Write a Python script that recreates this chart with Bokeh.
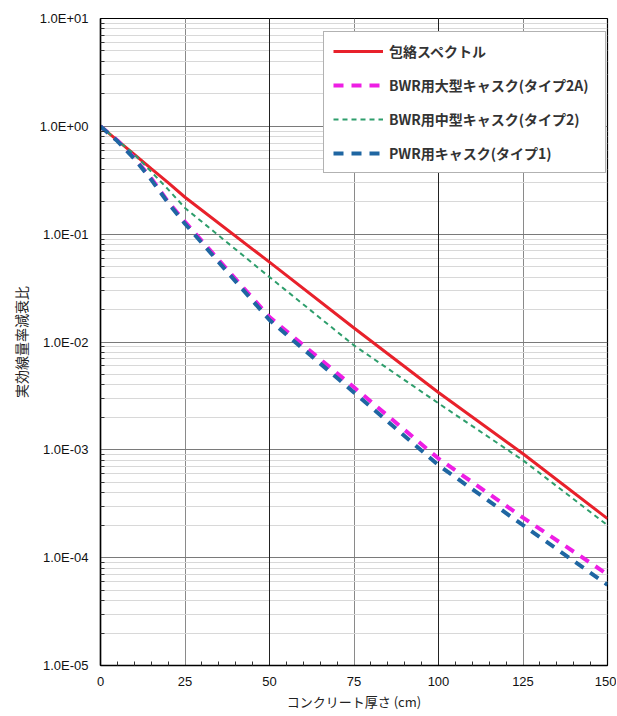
from bokeh.plotting import figure
from bokeh.models import (FixedTicker, CustomJSTickFormatter, Legend, LegendItem,
                          Grid, ColumnDataSource, Range1d)
from bokeh.embed import file_html
from bokeh.resources import INLINE

# ---- data ----
thickness_cm = [0, 5, 10, 15, 20, 25, 50, 75, 100, 125, 150]
envelope = [1.0, 0.74, 0.55, 0.405, 0.30, 0.22, 0.055, 0.0135, 3.4e-3, 9.2e-4, 2.3e-4]
bwr_large_2a = [1.0, 0.74, 0.51, 0.33, 0.20, 0.13, 0.017, 3.8e-3, 8.3e-4, 2.35e-4, 7.0e-5]
bwr_medium_2 = [1.0, 0.74, 0.55, 0.38, 0.26, 0.175, 0.040, 9.3e-3, 2.7e-3, 8.0e-4, 2.0e-4]
pwr_1 = [1.0, 0.73, 0.50, 0.32, 0.195, 0.125, 0.016, 3.4e-3, 7.2e-4, 2.0e-4, 5.6e-5]

series_names = ["包絡スペクトル", "BWR用大型キャスク(タイプ2A)",
                "BWR用中型キャスク(タイプ2)", "PWR用キャスク(タイプ1)"]
x_label = "コンクリート厚さ (cm)"
y_label = "実効線量率減衰比"
x_ticks = [0, 25, 50, 75, 100, 125, 150]
x_minor_ticks = [v for v in range(0, 151, 5) if v % 25 != 0]
x_dark_lines = [50, 100]
y_ticks = [1e-5, 1e-4, 1e-3, 1e-2, 1e-1, 1e0, 1e1]
y_minor_ticks = [m * 10.0 ** e for e in range(-5, 1) for m in range(2, 10)]

src = ColumnDataSource(dict(x=thickness_cm, env=envelope, b2a=bwr_large_2a,
                            b2=bwr_medium_2, p1=pwr_1))

p = figure(frame_width=507, frame_height=647, y_axis_type="log",
           x_range=Range1d(0, 150), y_range=Range1d(1e-5, 1e1),
           output_backend="svg", toolbar_location=None,
           min_border_left=100, min_border_right=9, min_border_top=18,
           min_border_bottom=20)
p.background_fill_color = "white"
p.border_fill_color = "white"
p.outline_line_color = "black"
p.outline_line_width = 1.2

# axes
for ax in (p.xaxis[0], p.yaxis[0]):
    ax.axis_line_color = "black"
    ax.axis_line_width = 1.5
    ax.major_tick_in = 0
    ax.major_tick_out = 0
    ax.minor_tick_in = 4
    ax.minor_tick_out = 0
    ax.minor_tick_line_color = "#333333"
    ax.major_label_text_font = "Liberation Sans"
    ax.major_label_text_font_size = "13px"
    ax.major_label_text_color = "#111111"
    ax.axis_label_text_font = "Noto Sans CJK JP"
    ax.axis_label_text_font_style = "normal"
    ax.axis_label_text_color = "#222222"

p.xaxis.ticker = FixedTicker(ticks=x_ticks, minor_ticks=x_minor_ticks)
p.yaxis.ticker = FixedTicker(ticks=y_ticks, minor_ticks=y_minor_ticks)
p.yaxis.formatter = CustomJSTickFormatter(code="""
    const e = Math.round(Math.log10(tick));
    const m = tick / Math.pow(10, e);
    const a = Math.abs(e);
    return m.toFixed(1) + 'E' + (e < 0 ? '-' : '+') + (a < 10 ? '0' : '') + a;
""")
p.xaxis.axis_label = x_label
p.yaxis.axis_label = y_label
p.xaxis.axis_label_text_font_size = "13px"
p.yaxis.axis_label_text_font_size = "14px"
p.xaxis.major_label_standoff = 11
p.yaxis.major_label_standoff = 12
p.xaxis.axis_label_standoff = 3
p.yaxis.axis_label_standoff = 6

# grids
p.xgrid.ticker = FixedTicker(ticks=x_ticks)
p.xgrid.grid_line_color = "#8a8a8a"
p.xgrid.grid_line_width = 1
p.ygrid.ticker = FixedTicker(ticks=y_ticks, minor_ticks=y_minor_ticks)
p.ygrid.grid_line_color = "#7a7a7a"
p.ygrid.grid_line_width = 1.2
p.ygrid.minor_grid_line_color = "#d8d8d8"
p.ygrid.minor_grid_line_width = 1
p.add_layout(Grid(dimension=0, ticker=FixedTicker(ticks=x_dark_lines),
                  grid_line_color="#222222", grid_line_width=1))

# lines
r_env = p.line("x", "env", source=src, line_color="#e8212b", line_width=3)
r_b2a = p.line("x", "b2a", source=src, line_color="#ee1ee4", line_width=4,
               line_dash="10 8")
r_b2 = p.line("x", "b2", source=src, line_color="#2e9e6c", line_width=2,
              line_dash="5 4")
r_p1 = p.line("x", "p1", source=src, line_color="#1f66a2", line_width=4,
              line_dash="10 8")

legend = Legend(items=[LegendItem(label=series_names[0], renderers=[r_env]),
                       LegendItem(label=series_names[1], renderers=[r_b2a]),
                       LegendItem(label=series_names[2], renderers=[r_b2]),
                       LegendItem(label=series_names[3], renderers=[r_p1])],
                location=(223, 492), padding=9,
                glyph_width=50, glyph_height=16, spacing=14,
                label_standoff=6, label_width=207,
                label_text_font="Noto Sans CJK JP", label_text_font_size="14px",
                label_text_font_style="bold",
                label_text_color="#333333",
                border_line_color="#666666", border_line_width=1,
                background_fill_color="white", background_fill_alpha=1.0)
p.add_layout(legend, "center")

open("out.html", "w").write(file_html(p, INLINE))
